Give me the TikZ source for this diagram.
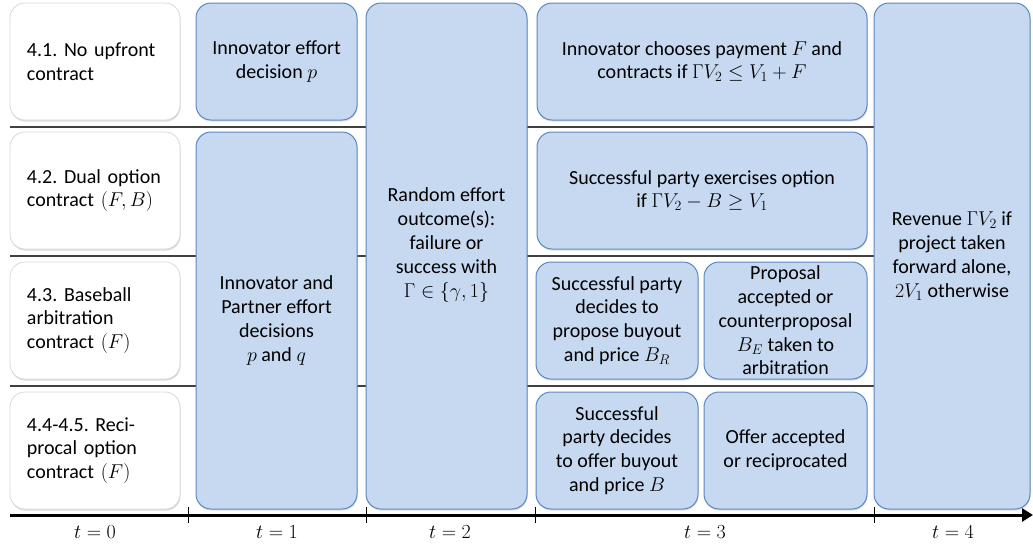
\documentclass[tikz,border=0pt]{standalone}
\usepackage{fix-cm}
\usepackage{fontspec}
\setmainfont{Carlito}
\usetikzlibrary{shadows,arrows.meta}
\definecolor{boxfill}{RGB}{198,217,241}
\definecolor{boxline}{RGB}{92,135,190}
\frenchspacing
\begin{document}
\begin{tikzpicture}[x=1pt,y=-1pt,
  every node/.style={font=\fontsize{20}{23.8}\selectfont},
  bbox/.style={draw=boxline,fill=boxfill,line width=1pt,rounded corners=15pt,
    inner sep=0pt,align=center,
    drop shadow={shadow xshift=0.6pt,shadow yshift=-1.6pt,opacity=0.25}},
  wbox/.style={draw=black!15,fill=white,line width=0.8pt,rounded corners=15pt,
    inner xsep=17pt,inner ysep=0pt,text width=136pt,align=left,
    minimum width=170pt,minimum height=117pt,
    drop shadow={shadow xshift=0.6pt,shadow yshift=-1.6pt,opacity=0.3}},
  row/.style={minimum height=117pt}]
\useasboundingbox(0,0)rectangle(1033,544);
\foreach \y in{127,256,386}
\draw[line width=1.2pt,black!75](10,\y)--(1028,\y);
% contract types
\node[wbox](w1)at(95,61.5){4.1. No upfront\\contract};
\node[wbox](w2)at(95,190.5){4.2. Dual option\\contract $(F,B)$};
\node[wbox](w3)at(95,320.5){4.3. Baseball\\arbitration\\contract $(F)$};
\node[wbox](w4)at(95,450.5){4.4-4.5. Reci-\\procal option\\contract $(F)$};
% t=1
\node[bbox,row,minimum width=161pt](a1)at(276.5,61.5){Innovator effort\\decision $p$};
\node[bbox,minimum width=161pt,minimum height=377pt](a2)at(276.5,320.5)
{Innovator and\\Partner effort\\decisions\\$p$ and $q$};
% t=2
\node[bbox,minimum width=161pt,minimum height=506pt](b)at(446.5,256){};
\node[align=center](btext)at(446.5,245){Random effort\\outcome(s):\\failure or\\success with\\$\Gamma\in\{\gamma,1\}$};
% t=3
\node[bbox,row,minimum width=330pt](c1)at(702,61.5)
{Innovator chooses payment $F$ and\\contracts if $\Gamma V_2\le V_1+F$};
\node[bbox,row,minimum width=330pt](c2)at(702,190.5)
{Successful party exercises option\\if $\Gamma V_2-B\ge V_1$};
\node[bbox,row,minimum width=162pt](c3)at(617,320.5)
{Successful party\\decides to\\propose buyout\\and price $B_R$};
\node[bbox,row,minimum width=163pt](c4)at(785.5,320.5)
{Proposal\\accepted or\\counterproposal\\$B_E$ taken to\\arbitration};
\node[bbox,row,minimum width=162pt](c5)at(617,450.5)
{Successful\\party decides\\to offer buyout\\and price $B$};
\node[bbox,row,minimum width=163pt](c6)at(785.5,450.5)
{Offer accepted\\or reciprocated};
% t=4
\node[bbox,minimum width=156pt,minimum height=506pt](d)at(952,256)
{Revenue $\Gamma V_2$ if\\project taken\\forward alone,\\$2V_1$ otherwise};
% time axis
\coordinate(ax0)at(10,515);
\coordinate(ax1)at(1033,515);
\draw[line width=3pt,-{Triangle[length=11pt,width=13pt]}](ax0)--(ax1);
\foreach \x in{188,366,535,874}
\draw[line width=1pt](\x,507)--(\x,523);
\foreach \x/\t in{95/0,277/1,450/2,705/3,953/4}
\node(t\t)at(\x,532){$t=\t$};
\end{tikzpicture}
\end{document}
